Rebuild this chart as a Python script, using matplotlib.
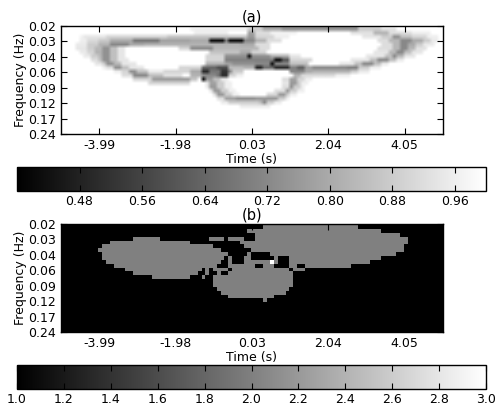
import numpy as np
import matplotlib
matplotlib.use('Agg')
import matplotlib.pyplot as plt

time_labels = ['-3.99', '-1.98', '0.03', '2.04', '4.05']
time_ticks = [10, 30, 50, 70, 90]
freq_labels = ['0.02', '0.03', '0.04', '0.06', '0.09', '0.12', '0.17', '0.24']
freq_ticks = [0, 4, 8, 12, 16, 20, 24, 28]
cbar_a_ticks = [0.48, 0.56, 0.64, 0.72, 0.80, 0.88, 0.96]
cbar_b_ticks = [1.0, 1.2, 1.4, 1.6, 1.8, 2.0, 2.2, 2.4, 2.6, 2.8, 3.0]

n_rows = 29
n_cols = 101

# panel (a): (first col, last col + 1, value) for each row, everything else is 1
coh_rows = [
    [(50,53,.92),(53,78,.74),(78,84,.92)],
    [(34,49,.96),(49,53,.88),(53,58,.8),(58,78,.74),(78,84,.88),(84,88,.93)],
    [(35,44,.96),(49,51,.78),(51,55,.92),(55,62,.97),(76,82,.93),(82,86,.82),(86,92,.92),(92,97,.96)],
    [(5,6,.97),(6,12,.94),(12,28,.9),(28,49,.86),(49,51,.76),(51,56,.9),(56,60,.96),(79,84,.94),(84,87,.88),(87,89,.74),(89,92,.85),(92,96,.9),(96,99,.96)],
    [(5,7,.96),(7,10,.91),(10,13,.87),(13,19,.8),(19,26,.68),(26,34,.78),(34,39,.8),(39,43,.42),(43,44,.7),(44,48,.42),(48,51,.72),(51,54,.82),(54,58,.92),(83,86,.92),(86,89,.83),(89,92,.72),(92,95,.8),(95,97,.88),(97,99,.95)],
    [(4,7,.95),(7,10,.88),(10,13,.82),(13,18,.72),(18,22,.8),(22,47,.82),(47,51,.8),(51,55,.92),(84,87,.92),(87,89,.83),(89,91,.72),(91,93,.8),(93,95,.88),(95,98,.95)],
    [(4,7,.94),(7,9,.88),(9,11,.83),(11,13,.74),(13,15,.85),(15,17,.94),(31,34,.9),(34,40,.72),(40,52,.83),(52,55,.92),(83,87,.92),(87,89,.83),(89,91,.72),(91,93,.83),(93,96,.93)],
    [(5,7,.95),(7,9,.9),(9,11,.82),(11,13,.74),(13,15,.85),(15,17,.94),(39,47,.86),(47,50,.8),(50,54,.9),(82,86,.94),(86,88,.83),(88,90,.72),(90,92,.85),(92,95,.94)],
    [(6,8,.95),(8,10,.88),(10,11,.83),(11,13,.74),(13,15,.85),(15,17,.94),(38,43,.9),(43,49,.74),(49,50,.42),(50,55,.74),(55,60,.82),(60,63,.94),(80,85,.94),(85,87,.85),(87,88,.72),(88,90,.83),(90,93,.94)],
    [(8,10,.92),(10,11,.85),(11,13,.74),(13,15,.85),(15,18,.94),(38,43,.9),(43,50,.7),(50,56,.7),(56,58,.42),(58,60,.6),(60,66,.9),(76,81,.94),(81,83,.85),(83,86,.72),(86,88,.85),(88,90,.95)],
    [(9,11,.94),(11,12,.88),(12,14,.74),(14,16,.83),(16,20,.94),(38,43,.82),(43,45,.78),(45,51,.74),(51,55,.72),(55,56,.42),(56,60,.72),(60,65,.85),(73,77,.94),(77,79,.85),(79,82,.72),(82,84,.85),(84,86,.95)],
    [(11,12,.96),(12,14,.92),(14,16,.74),(16,18,.85),(18,22,.94),(31,37,.9),(37,41,.64),(41,44,.58),(44,48,.84),(48,51,.82),(51,53,.48),(53,56,.66),(56,60,.5),(60,62,.7),(62,64,.62),(64,66,.78),(66,75,.72),(75,78,.7),(78,81,.88),(81,84,.96)],
    [(14,16,.96),(16,18,.9),(18,20,.74),(20,23,.85),(23,27,.95),(27,34,.9),(34,37,.8),(37,39,.5),(39,42,.68),(42,44,.52),(44,45,.72),(45,48,.88),(60,64,.72),(64,66,.8),(66,76,.82),(76,78,.88),(78,81,.95)],
    [(16,19,.92),(19,23,.72),(23,27,.85),(27,32,.93),(34,37,.82),(37,38,.74),(38,41,.72),(41,42,.66),(42,44,.5),(44,46,.9),(46,48,.96),(61,63,.82),(63,72,.91),(72,76,.96)],
    [(19,24,.9),(24,34,.76),(34,36,.86),(37,38,.42),(38,40,.76),(40,42,.85),(42,44,.95),(58,60,.92),(60,62,.78),(62,64,.9),(64,66,.96)],
    [(23,34,.9),(38,39,.94),(39,41,.78),(41,43,.88),(43,45,.96),(58,60,.94),(60,62,.76),(62,63,.88),(63,65,.96)],
    [(38,39,.95),(39,41,.76),(41,43,.88),(43,45,.96),(58,60,.92),(60,61,.74),(61,63,.88),(63,64,.96)],
    [(39,40,.94),(40,42,.76),(42,44,.88),(44,46,.96),(56,59,.92),(59,60,.76),(60,62,.88),(62,64,.96)],
    [(40,41,.92),(41,43,.76),(43,45,.88),(45,47,.96),(54,57,.9),(57,59,.76),(59,60,.88),(60,62,.96)],
    [(41,43,.92),(43,46,.78),(46,51,.74),(51,57,.76),(57,59,.88),(59,60,.96)],
    [(42,44,.95),(44,52,.88),(52,53,.84),(53,54,.72),(54,56,.88),(56,58,.95)],
    [(47,55,.95)],
]

# panel (b): (first col, last col + 1) of the cells equal to 2, everything else is 1
label_rows = [
    [],
    [(53,78)],
    [(49,84)],
    [(51,89)],
    [(19,26),(39,43),(44,48),(51,91)],
    [(13,34),(47,91)],
    [(11,40),(48,90)],
    [(10,42),(50,90)],
    [(11,44),(49,50),(55,88)],
    [(11,43),(44,45),(48,50),(56,57),(60,84)],
    [(12,42),(44,45),(48,55),(56,57),(60,81)],
    [(14,41),(44,51),(53,56),(60,62),(64,76)],
    [(17,37),(38,39),(40,44),(45,60),(61,64)],
    [(19,36),(38,39),(41,42),(44,61)],
    [(24,34),(37,38),(40,61)],
    [(40,61)],
    [(40,61)],
    [(41,60)],
    [(42,59)],
    [(44,56)],
    [(53,54)],
]
label_peak = (10, 55)

coh = np.ones((n_rows, n_cols))
for r, row in enumerate(coh_rows):
    for start, end, val in row:
        coh[r, start:end] = val

labels = np.ones((n_rows, n_cols))
for r, row in enumerate(label_rows):
    for start, end in row:
        labels[r, start:end] = 2
labels[label_peak] = 3

plt.rcParams['font.size'] = 9
plt.rcParams['axes.linewidth'] = 1.0

W, H = 496.0, 407.0
fig = plt.figure(figsize=(4.96, 4.07), dpi=100)


def box(x0, y0, x1, y1):
    return [x0 / W, 1 - y1 / H, (x1 - x0) / W, (y1 - y0) / H]


def panel(data, title, vmin, vmax, top, ctop, cticks, cfmt, interp):
    ax = fig.add_axes(box(61, top, 443, top + 108))
    im = ax.imshow(data, cmap='gray', vmin=vmin, vmax=vmax, aspect='auto',
                   interpolation=interp, extent=(-0.2, 100.8, 28.3, -0.7))
    ax.set_xlim(0, 100)
    ax.set_ylim(28, 0)
    ax.set_xticks(time_ticks)
    ax.set_xticklabels(time_labels)
    ax.set_yticks(freq_ticks)
    ax.set_yticklabels(freq_labels)
    ax.tick_params(direction='in', top=True, right=True, length=4, width=0.8, pad=3.5)
    ax.set_xlabel('Time (s)', labelpad=0.5)
    ax.set_ylabel('Frequency (Hz)', labelpad=1)
    ax.set_title(title, fontsize=10.5, pad=3)
    cax = fig.add_axes(box(17, ctop, 486, ctop + 23.5))
    cb = fig.colorbar(im, cax=cax, orientation='horizontal')
    cb.set_ticks(cticks)
    cb.set_ticklabels([cfmt % t for t in cticks])
    cax.tick_params(direction='in', top=True, length=4, width=0.8, pad=3.5)
    return ax


panel(coh, '(a)', 0.4, 1.0, 26, 167, cbar_a_ticks, '%.2f', 'bilinear')
panel(labels, '(b)', 1.0, 3.0, 224, 365, cbar_b_ticks, '%.1f', 'nearest')

plt.savefig('out.png', dpi=100)
plt.close()
